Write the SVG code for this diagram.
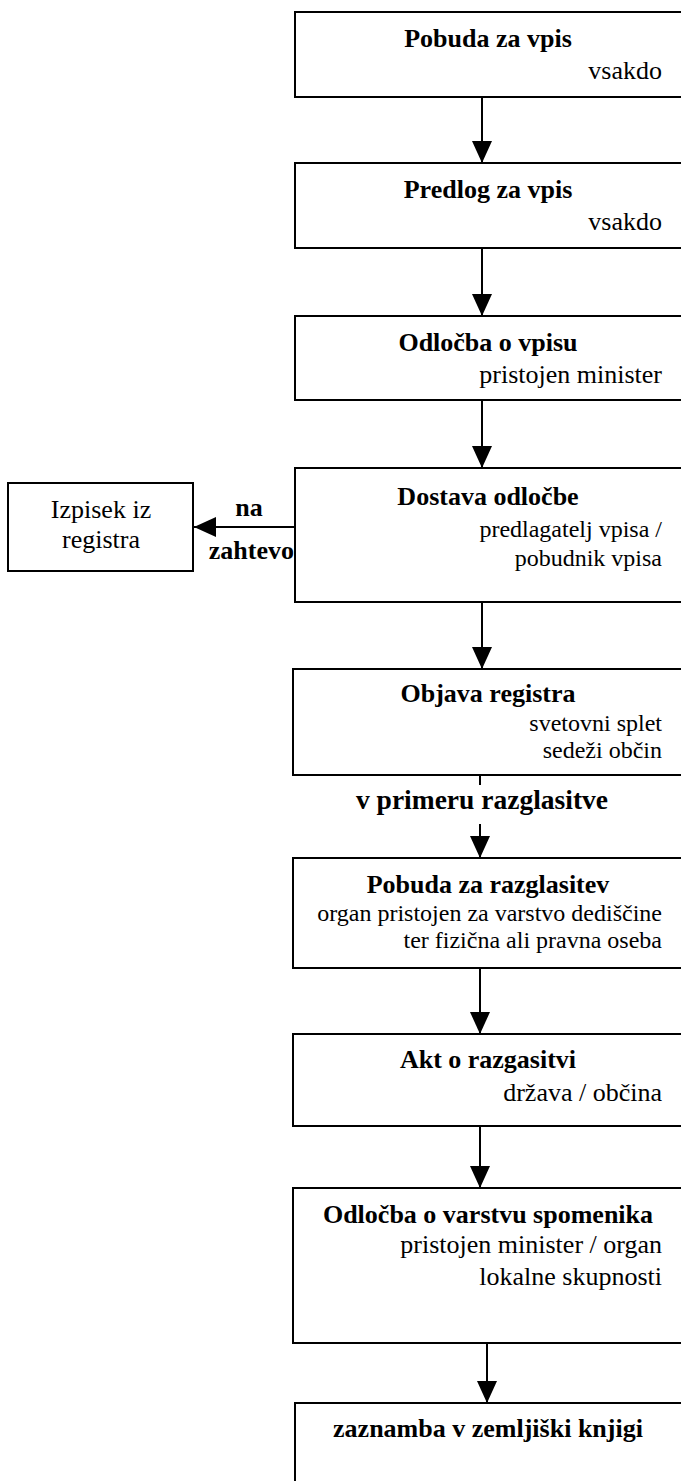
<svg xmlns="http://www.w3.org/2000/svg" width="681" height="1481" viewBox="0 0 681 1481">
  <style>
    .box { fill: #ffffff; stroke: #000000; stroke-width: 2; }
    .link { fill: none; stroke: #000000; stroke-width: 2; }
    text { font-family: "Liberation Serif", "Times New Roman", "DejaVu Serif", serif; fill: #000000; }
    .title { font-size: 26px; font-weight: bold; text-anchor: middle; }
    .sub { font-size: 26px; text-anchor: end; }
    .sub.small { font-size: 24px; }
    .mid { font-size: 26px; text-anchor: middle; }
    .lbl { font-size: 26px; font-weight: bold; }
  </style>
  <defs>
    <marker id="arrow" viewBox="0 0 22 20" refX="22" refY="10" markerWidth="22" markerHeight="20" markerUnits="userSpaceOnUse" orient="auto">
      <path d="M0,0 L22,10 L0,20 Z" fill="#000000"/>
    </marker>
  </defs>

  <rect width="681" height="1481" fill="#ffffff"/>

  <!-- connectors -->
  <g id="connectors">
    <line class="link" x1="482" y1="97" x2="482" y2="163" marker-end="url(#arrow)"/>
    <line class="link" x1="482" y1="248" x2="482" y2="316" marker-end="url(#arrow)"/>
    <line class="link" x1="482" y1="400" x2="482" y2="468" marker-end="url(#arrow)"/>
    <line class="link" x1="295" y1="527" x2="194" y2="527" marker-end="url(#arrow)"/>
    <line class="link" x1="482" y1="602" x2="482" y2="669" marker-end="url(#arrow)"/>
    <line class="link" x1="480" y1="775" x2="480" y2="785"/>
    <line class="link" x1="480" y1="824" x2="480" y2="858" marker-end="url(#arrow)"/>
    <line class="link" x1="480" y1="968" x2="480" y2="1034" marker-end="url(#arrow)"/>
    <line class="link" x1="480" y1="1126" x2="480" y2="1188" marker-end="url(#arrow)"/>
    <line class="link" x1="487" y1="1343" x2="487" y2="1403" marker-end="url(#arrow)"/>
  </g>

  <g id="pobuda-vpis">
    <rect class="box" x="295" y="12" width="400" height="85"/>
    <text class="title" x="488" y="47">Pobuda za vpis</text>
    <text class="sub" x="662" y="79">vsakdo</text>
  </g>

  <g id="predlog-vpis">
    <rect class="box" x="295" y="163" width="400" height="85"/>
    <text class="title" x="488" y="198">Predlog za vpis</text>
    <text class="sub" x="662" y="230">vsakdo</text>
  </g>

  <g id="odlocba-vpis">
    <rect class="box" x="295" y="316" width="400" height="84"/>
    <text class="title" x="488" y="351">Odločba o vpisu</text>
    <text class="sub" x="662" y="383">pristojen minister</text>
  </g>

  <g id="dostava">
    <rect class="box" x="295" y="468" width="400" height="134"/>
    <text class="title" x="488" y="505">Dostava odločbe</text>
    <text class="sub small" x="662" y="537">predlagatelj vpisa /</text>
    <text class="sub small" x="662" y="566">pobudnik vpisa</text>
  </g>

  <g id="na-zahtevo">
    <text class="lbl" x="249" y="516" text-anchor="middle">na</text>
    <text class="lbl" x="294" y="559" text-anchor="end">zahtevo</text>
  </g>

  <g id="izpisek">
    <rect class="box" x="8" y="483" width="185" height="88"/>
    <text class="mid" x="101" y="518">Izpisek iz</text>
    <text class="mid" x="101" y="548">registra</text>
  </g>

  <g id="objava">
    <rect class="box" x="293" y="669" width="402" height="106"/>
    <text class="title" x="488" y="702">Objava registra</text>
    <text class="sub small" x="662" y="731">svetovni splet</text>
    <text class="sub small" x="662" y="758">sedeži občin</text>
  </g>

  <g id="v-primeru">
    <text class="lbl" x="482" y="809" text-anchor="middle" style="font-size:27.5px">v primeru razglasitve</text>
  </g>

  <g id="pobuda-razglasitev">
    <rect class="box" x="293" y="858" width="402" height="110"/>
    <text class="title" x="488" y="893">Pobuda za razglasitev</text>
    <text class="sub small" x="662" y="921">organ pristojen za varstvo dediščine</text>
    <text class="sub small" x="662" y="948">ter fizična ali pravna oseba</text>
  </g>

  <g id="akt">
    <rect class="box" x="293" y="1034" width="402" height="92"/>
    <text class="title" x="488" y="1068">Akt o razgasitvi</text>
    <text class="sub" x="662" y="1101">država / občina</text>
  </g>

  <g id="odlocba-varstvo">
    <rect class="box" x="293" y="1188" width="402" height="155"/>
    <text class="title" x="488" y="1223">Odločba o varstvu spomenika</text>
    <text class="sub" x="662" y="1253">pristojen minister / organ</text>
    <text class="sub" x="662" y="1285">lokalne skupnosti</text>
  </g>

  <g id="zaznamba">
    <rect class="box" x="295" y="1403" width="400" height="100"/>
    <text class="title" x="488" y="1437">zaznamba v zemljiški knjigi</text>
  </g>
</svg>
